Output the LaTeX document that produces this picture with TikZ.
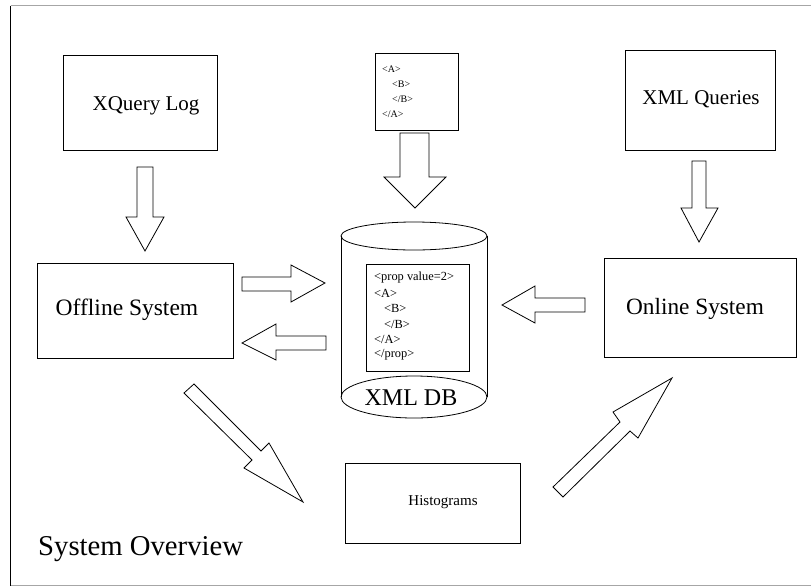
\documentclass[tikz,border=0pt]{standalone}
\usepackage{fontspec}
\setmainfont{Liberation Serif}
\begin{document}
\begin{tikzpicture}[x=1pt,y=-1pt,
  box/.style={draw,line width=0.8pt,inner sep=0pt},
  blk/.style={draw,line width=0.8pt,line join=miter,fill=white},
  tag/.style={anchor=west,inner sep=0pt,font=\fontsize{12.4}{14}\selectfont},
  smalltag/.style={anchor=west,inner sep=0pt,font=\fontsize{10}{12}\selectfont},
  lbl/.style={inner sep=0pt,font=\fontsize{21}{25}\selectfont}]
\useasboundingbox (0,0) rectangle (811,587);

% outer frame
\draw[gray!70,line width=1pt] (10.5,5.5) -- (811,5.5);
\draw[gray!70,line width=1pt] (10.5,585.5) -- (811,585.5);
\draw[line width=1pt] (10.5,5.5) -- (10.5,585.5);

% boxes
\draw[box] (63,55) rectangle (217,150);
\node[lbl] (xqlog) at (146,106) {XQuery Log};

\draw[box] (37,263) rectangle (233,358);
\node[lbl,font=\fontsize{23.5}{27}\selectfont] (offline) at (127,310) {Offline System};

\draw[box] (625,50) rectangle (775,150);
\node[lbl] (xmlq) at (701,99) {XML Queries};

\draw[box] (604,258) rectangle (796,357);
\node[lbl,font=\fontsize{23.3}{27}\selectfont] (online) at (695,309) {Online System};

\draw[box] (345,463) rectangle (520,543);
\node[lbl,font=\fontsize{15}{18}\selectfont] (hist) at (443,502) {Histograms};

% small document box
\draw[box] (375,53) rectangle (458,130);
\node[smalltag] (d1) at (382,69) {<A>};
\node[smalltag] (d2) at (392,84) {<B>};
\node[smalltag] (d3) at (392,99) {</B>};
\node[smalltag] (d4) at (382,114) {</A>};

% database cylinder
\draw[line width=0.8pt] (341,236) -- (341,397);
\draw[line width=0.8pt] (487,236) -- (487,397);
\draw[line width=0.8pt] (414,236) ellipse [x radius=73, y radius=14];
\draw[line width=0.8pt] (414,397) ellipse [x radius=73, y radius=21];
\draw[box] (366,264) rectangle (469,371);
\node[tag] (p1) at (374,278) {<prop value=2>};
\node[tag] (p2) at (374,293) {<A>};
\node[tag] (p3) at (384,308) {<B>};
\node[tag] (p4) at (384,324) {</B>};
\node[tag] (p5) at (374,339) {</A>};
\node[tag] (p6) at (374,355) {</prop>};
\node[inner sep=0pt,font=\fontsize{24}{28}\selectfont] (db) at (411,398) {XML DB};

% block arrows
\draw[blk] (137,167) -- (153,167) -- (153,217) -- (164,217) -- (145,251) -- (126,217) -- (137,217) -- cycle;
\draw[blk] (400,133) -- (429,133) -- (429,177) -- (446,177) -- (415,208) -- (384,177) -- (400,177) -- cycle;
\draw[blk] (692,161) -- (706,161) -- (706,208) -- (718,208) -- (699,242) -- (681,208) -- (692,208) -- cycle;
\draw[blk] (242,277) -- (291,277) -- (291,265) -- (325,283) -- (291,302) -- (291,291) -- (242,291) -- cycle;
\draw[blk] (326,336) -- (276,336) -- (276,324) -- (242,343) -- (276,360) -- (276,350) -- (326,350) -- cycle;
\draw[blk] (585,298) -- (535,298) -- (535,286) -- (502,305) -- (535,323) -- (535,312) -- (585,312) -- cycle;
\draw[blk] (194,384) -- (261,451) -- (269,443) -- (303,502) -- (244,468) -- (252,460) -- (184,393) -- cycle;
\draw[blk] (553,487) -- (620,422) -- (613,412) -- (672,378) -- (638,438) -- (630,431) -- (563,497) -- cycle;

% title
\node[anchor=west,inner sep=0pt,font=\fontsize{28.7}{33}\selectfont] (title) at (38,549) {System Overview};
\end{tikzpicture}
\end{document}
